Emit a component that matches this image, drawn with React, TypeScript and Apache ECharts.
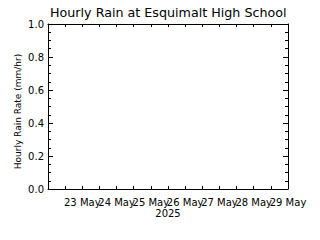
import React, { useEffect, useRef } from "react";
import * as echarts from "echarts";

const titleText = "Hourly Rain at Esquimalt High School";
const yAxisTitle = "Hourly Rain Rate (mm/hr)";
const xAxisTitle = "2025";
// day offsets from 22 May 2025 00:00
const dayLabels = ["", "23 May", "24 May", "25 May", "26 May", "27 May", "28 May", "29 May"];
const yTicks = [0.0, 0.2, 0.4, 0.6, 0.8, 1.0];
// hourly rain observations: [dayOffset, mm/hr] — none recorded in this window
const rainValues: [number, number][] = [];

const FONT = "DejaVu Sans";

export default function App() {
  const ref = useRef<HTMLDivElement>(null);
  useEffect(() => {
    if (!ref.current) return;
    const chart = echarts.init(ref.current, null, { renderer: "svg" });
    const xMax = dayLabels.length - 1;
    const yMax = yTicks[yTicks.length - 1];
    const axisLine = { show: true, onZero: false, lineStyle: { color: "#000", width: 1 } };
    const xCommon = {
      type: "value" as const,
      min: 0,
      max: xMax,
      interval: 0.5,
      axisLine,
      splitLine: { show: false },
      axisTick: { show: true, inside: true, length: 3, lineStyle: { color: "#000" } },
    };
    const yCommon = {
      type: "value" as const,
      min: yTicks[0],
      max: yMax,
      interval: 0.2,
      axisLine,
      splitLine: { show: false },
      axisTick: { show: true, inside: true, length: 5, lineStyle: { color: "#000" } },
      minorTick: { show: true, splitNumber: 4, length: 3, lineStyle: { color: "#000" } },
    };
    chart.setOption({
      animation: false,
      backgroundColor: "#fff",
      title: {
        text: titleText,
        left: 50,
        top: 6,
        padding: 0,
        textStyle: { fontFamily: FONT, fontSize: 12.7, fontWeight: "normal", color: "#000" },
      },
      grid: { left: 48, right: 32, top: 24, bottom: 51, outerBoundsMode: "none" },
      xAxis: [
        {
          ...xCommon,
          position: "bottom",
          name: xAxisTitle,
          nameLocation: "middle",
          nameGap: 19,
          nameMoveOverlap: false,
          nameTextStyle: { fontFamily: FONT, fontSize: 10, color: "#000" },
          axisLabel: {
            show: true,
            margin: 8,
            fontFamily: FONT,
            fontSize: 10,
            color: "#000",
            showMinLabel: true,
            showMaxLabel: true,
            formatter: (v: number) => (Number.isInteger(v) ? dayLabels[v] ?? "" : ""),
          },
        },
        {
          ...xCommon,
          position: "top",
          axisLabel: { show: false },
        },
      ],
      yAxis: [
        {
          ...yCommon,
          position: "left",
          name: yAxisTitle,
          nameLocation: "middle",
          nameGap: 26,
          nameMoveOverlap: false,
          nameRotate: 90,
          nameTextStyle: { fontFamily: FONT, fontSize: 9, color: "#000", padding: [0, 10, 0, 0] },
          axisLabel: {
            show: true,
            margin: 4,
            fontFamily: FONT,
            fontSize: 10,
            color: "#000",
            formatter: (v: number) => v.toFixed(1),
          },
        },
        {
          ...yCommon,
          position: "right",
          axisLabel: { show: false },
        },
      ],
      series: [
        {
          type: "line",
          data: rainValues,
          showSymbol: false,
          lineStyle: { color: "#000", width: 1 },
        },
      ],
    });
    return () => chart.dispose();
  }, []);
  return (
    <div
      ref={ref}
      style={{ position: "fixed", left: 0, top: 0, width: 320, height: 240 }}
    />
  );
}
